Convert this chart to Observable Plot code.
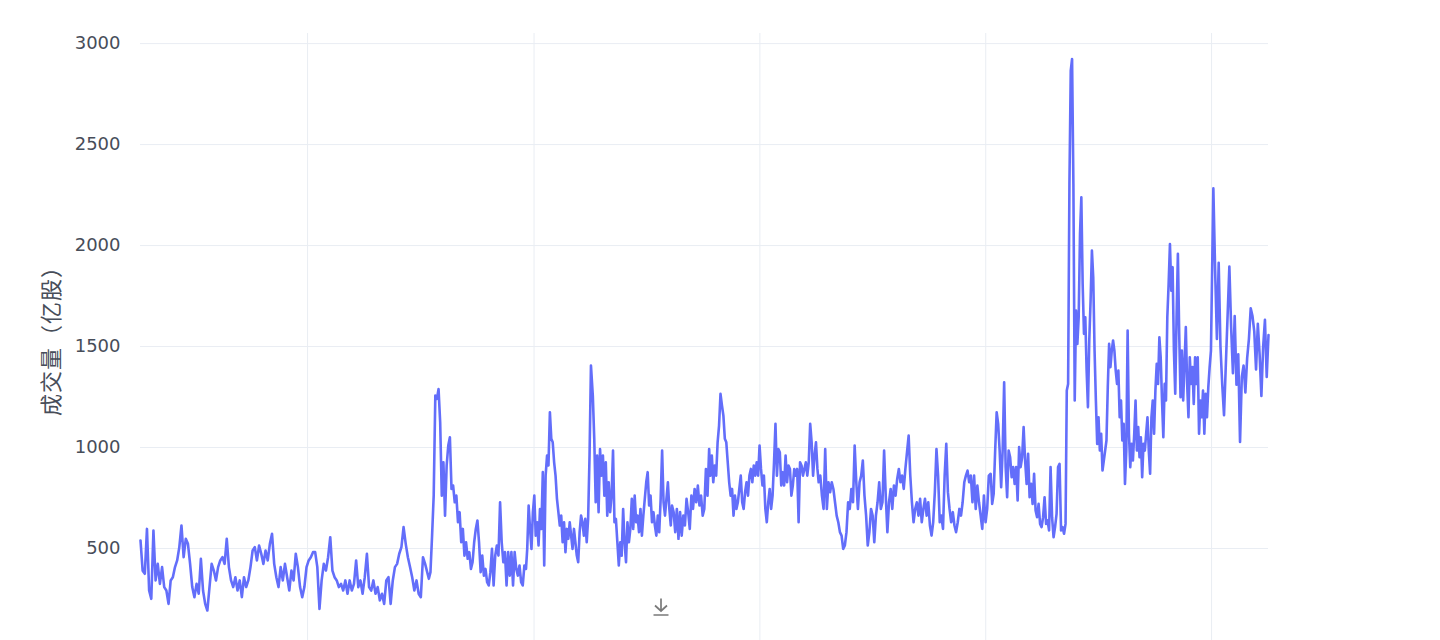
<!DOCTYPE html>
<html><head><meta charset="utf-8">
<script src="https://cdn.jsdelivr.net/npm/d3@7"></script>
<script src="https://cdn.jsdelivr.net/npm/@observablehq/plot@0.6"></script>
<style>
html,body{margin:0;padding:0;background:#fff;overflow:hidden;}
#chart{position:relative;width:1440px;height:640px;overflow:hidden;}
#dl{position:absolute;left:647px;top:593px;width:28px;height:28px;}
.ylab text{letter-spacing:1px;}
</style></head><body><div id="chart"></div>
<script>
// 成交量（亿股）— values, segment by segment
const segStart = ["2019-04-06","2020-07-15","2020-12-21","2021-04-06","2021-08-12","2021-10-13","2022-04-06","2023-01-09","2023-05-12","2024-01-01"];
const segEnd   = ["2020-07-09","2020-12-19","2021-04-03","2021-08-10","2021-10-11","2022-04-04","2023-01-06","2023-05-10","2023-12-31","2024-04-02"];

const volA = [540,390,375,597,292,251,589,342,424,325,408,309,292,226,342,358,408,441,507,614,
  457,548,523,424,309,259,325,276,449,292,226,193,309,424,391,342,408,441,457,424,
  548,408,342,309,358,292,342,259,358,309,342,408,490,507,441,515,474,424,490,441,
  523,573,424,358,309,408,342,424,358,292,391,342,474,408,309,259,309,408,441,457,
  482,482,408,201,342,424,391,457,556,391,358,342,309,325,292,342,276,342,292,325,
  441,309,342,276,358,474,309,292,342,276,309,243,276,226,342,358,226,342,408,424,
  474,507,606,523,457,408,358,292,342,276,259,457,424];
const volB1 = [350,383,564,762,1257,1241,1290,1125,762,927,663,911,1010,1051,795,812,729,762,630,680,
  531,597,465,531,449,482,399,432,531,597,639,531,383,465,366,399,333,317,383,498,
  317,465,515,465,729,531,432,482,317,482,366,482,317,482,399,366,416,333,317,416,399];
const volB2 = [498,713,597,498,680,762,564,630,515,696,597,878,416,861,960,911,1175,1043,1026,927,
  861,746,680,614,663,531,630,482,597,548,630,564,498,597,531,465,432,581,663,630,
  564,647,531,647,960,1406];
const volB3 = [1257,1043,729,960,680,993,861,960,762,927,663,828,680,762,985,630,647,531,416,531,
  465,696,531,432,630,531,597,746,597,762,630,663,581,696,564,663,746,828,878,713,
  762,630,680,614,564,663,581,746,985,729,663,746,828,696,614];
const volB4 = [713,680,581,696,548,680,564,663,614,746,680,597,762,696,795,729,812,713,762,663,
  696,894,762,993];
const volC1 = [861,960,828,911,861,1026,1109,1266,1208,1158,1043,1026,927,828,762,795,663,762,696,729,
  795,861,729,696,779,828,762,861,894,828,911,861,927,861,1010,894,812,861,696,630,
  729,795,696,762,927,1117,861,993,977,812,878,812,960,828,911,894,762,812,894,861,
  894,630,927,911,861,894,927,861,927,1117,1026,861,960,1026,894];
const volC2 = [828,861,762,696,993,696,828,779,828,795,729,663,630,581,564,498,515,581,729,696,
  795,729,1010,828,696,828,861,936,762,663,515,581,696,663,531,663,729,828,696,729,
  985,762,581,729,795,696,812,762,845,894,828,861,795,894,977,1059,861,729,630,696,
  729,663,746,630,696,746,663,729,614,564,630,779,993,861,630,663,597,861,1018,779,
  696,630,680,614,581,630,696,663,729,828,861,886,828,861,729,861,696,812,729,663,
  597,762,630,696,861];
const volD1 = [870,721,771,985,1175,1117,985,804,985,1323,903,754,985,952,853,903,820,903,738,1002,
  903,952,1101,936,820,969,754,820,721,870,688,655,721,622,606,655,754,622,639,589,
  903,655,556,606,672,903,919,589,606,573,622];
const volD2 = [1282,1315,2305,2866,2924,2305,1233,1678,1513,1645,2058,2239,1810,1563,1645,1381,1200,1530,1728,1975,
  1843,1480,1233,1018,1150,985,1068,886,936,985,1035,1299,1513,1398,1480,1530,1480,1381,1315,1381,
  1150,1233,1035,1117,820,985,1579,1068,903,1018,936,1068,1233,985,1101,952,1051,853,1018,985,
  1068,1150,985,870,1150,1233,1068,1282,1414,1315,1546,1447,1233,1051,1315,1233,1645,1810,2008,1777,
  1893,1480,1266,1645,1959,1563,1249,1480,1233,1414,1596,1315,1150,1447,1315,1398,1216,1447,1315,1447,
  1068,1233,1150,1282,1068,1266,1150,1299,1398,1480];
const volE = [1689,2283,1877,1538,1915,1500,1311,1160,1406,1651,1896,1594,1368,1651,1311,1462,1028,1349,1406,1273,
  1443,1538,1689,1651,1575,1387,1613,1462,1255,1500,1632,1349,1557];

const segValues = [volA, volB1, volB2, volB3, volB4, volC1, volC2, volD1, volD2, volE];
const yTicks = [500, 1000, 1500, 2000, 2500, 3000];
const xGrid = ["2020-01-01","2021-01-01","2022-01-01","2023-01-01","2024-01-01"];
const yLabel = "成交量（亿股）";

const parse = d3.utcParse("%Y-%m-%d");
const table = [];
segValues.forEach((vals, s) => {
  const t0 = +parse(segStart[s]), t1 = +parse(segEnd[s]);
  const n = vals.length;
  vals.forEach((v, i) => {
    table.push({date: new Date(t0 + (t1 - t0) * (n > 1 ? i / (n - 1) : 0)), vol: v});
  });
});

const chart = Plot.plot({
  width: 1440,
  height: 690,
  marginLeft: 140,
  marginRight: 172,
  marginTop: 33,
  marginBottom: 41,
  style: {fontFamily: "'DejaVu Sans', 'Noto Sans CJK SC', sans-serif", fontSize: "18px", color: "#474d59", background: "#fff", overflow: "visible"},
  x: {type: "utc", domain: [parse("2019-04-06"), parse("2024-04-02")], axis: null},
  y: {domain: [0, 3050], axis: null},
  marks: [
    Plot.gridX(xGrid.map(parse), {stroke: "#e9edf3", strokeOpacity: 1, strokeWidth: 1}),
    Plot.gridY(yTicks, {stroke: "#e9edf3", strokeOpacity: 1, strokeWidth: 1}),
    Plot.axisY(yTicks, {tickSize: 0, tickPadding: 20, fontSize: 18, tickFormat: d => String(d), label: null}),
    Plot.text([yLabel], {frameAnchor: "left", text: d => d, rotate: -90, dx: -89, dy: -6, fontSize: 22, fill: "#474d59", textAnchor: "middle", lineAnchor: "middle", className: "ylab"}),
    Plot.lineY(table, {x: "date", y: "vol", stroke: "#636efa", strokeWidth: 2.6, strokeLinejoin: "round"})
  ]
});
document.getElementById("chart").appendChild(chart);

const dl = document.createElementNS("http://www.w3.org/2000/svg", "svg");
dl.setAttribute("id", "dl");
dl.setAttribute("viewBox", "0 0 28 28");
dl.innerHTML = '<circle cx="14" cy="14" r="14" fill="#fff" fill-opacity="0.7"/>' +
  '<path d="M14 5.5 V18 M8 12.5 L14 18 L20 12.5 M6.5 22 H21.5" fill="none" stroke="#7a7a7a" stroke-width="1.7"/>';
document.getElementById("chart").appendChild(dl);
</script>
</body></html>
